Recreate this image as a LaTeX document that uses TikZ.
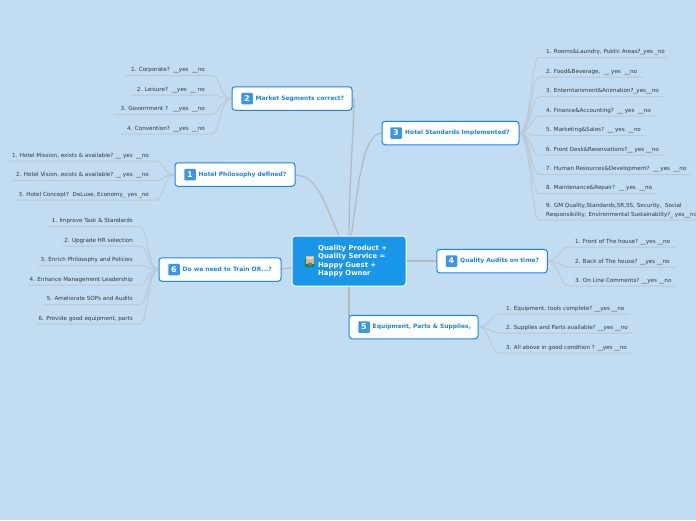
\documentclass[tikz,border=0pt]{standalone}
\usepackage{fontspec}
\setmainfont{DejaVu Sans}
\definecolor{bgc}{HTML}{C2DDF1}
\definecolor{mainb}{HTML}{1A96E8}
\definecolor{topb}{HTML}{1A84E4}
\definecolor{linec}{HTML}{BCC8D2}
\definecolor{thick}{HTML}{B4BAC0}
\definecolor{kidtxt}{HTML}{30363C}
\tikzset{
  x=1pt,y=-1pt,
  mainnode/.style={draw=white,line width=1pt,fill=mainb,rounded corners=3pt,minimum width=114pt,minimum height=50pt,inner sep=0pt},
  topic/.style={draw=topb,line width=1pt,fill=white,rounded corners=3pt,inner sep=0pt,minimum height=23.5pt},
  topictext/.style={inner sep=0pt,anchor=west,text=topb,font=\fontsize{5.95}{7}\selectfont\bfseries},
  badge/.style={fill=topb!85!white,rounded corners=1pt,minimum size=11.5pt,inner sep=0pt,text=white,font=\fontsize{8}{8}\selectfont\bfseries},
  kidtext/.style={inner sep=0pt,text=kidtxt,font=\fontsize{5.6}{6.6}\selectfont},
  branch/.style={draw=thick,line width=1.3pt},
  twig/.style={draw=linec,line width=1pt},
}
\usetikzlibrary{calc}
% \leftkid{name}{parent}{text right x}{line left x}{y of underline}{text}
\newcommand{\leftkid}[6]{%
  \node[kidtext,anchor=base east] (#1) at (#3,#5-3.6) {#6};
  \coordinate (#1L) at (#4,#5);
  \coordinate (#1R) at (#3+7,#5);
  \draw[twig] (#1L) -- (#1R) .. controls ($(#1R)+(8,0)$) and ($(#2)+(-12,0)$) .. (#2);
}
\newcommand{\rightkid}[6]{%
  \node[kidtext,anchor=base west] (#1) at (#3,#5-3.6) {#6};
  \coordinate (#1R) at (#4,#5);
  \coordinate (#1L) at (#3-7,#5);
  \draw[twig] (#1R) -- (#1L) .. controls ($(#1L)+(-8,0)$) and ($(#2)+(12,0)$) .. (#2);
}
\begin{document}
\begin{tikzpicture}
\useasboundingbox (0,0) rectangle (696,520);
\fill[bgc] (0,0) rectangle (696,520);
% connectors from the centre, drawn first
\coordinate (cm) at (349,240);
\coordinate (c1) at (340,238);
\coordinate (c3) at (351,238);
\coordinate (t2) at (354,98);
\coordinate (t1) at (295,175);
\coordinate (t3) at (382,133);
\coordinate (t4) at (437,261);
\coordinate (t5) at (349,316);
\coordinate (t6) at (281,269);
\coordinate (cc) at (349,261);
\draw[branch] (cm) .. controls (349,180) and (354,130) .. (t2);
\draw[branch] (c1) .. controls (325,205) and (318,175) .. (t1);
\draw[branch] (c3) .. controls (358,190) and (362,133) .. (t3);
\draw[branch] (cc) -- (t4);
\draw[branch] (cc) -- (t5);
\draw[branch] (cc) -- (t6);
% kids
\coordinate (p2) at (232,98.5);
\coordinate (p1) at (175,174.5);
\coordinate (p6) at (159,269.5);
\coordinate (p3) at (519,133);
\coordinate (p4) at (547,261);
\coordinate (p5) at (478,327);
\leftkid{a1}{p2}{205}{125}{75.5}{1. Corporate?\ \ \_\_yes\ \ \_\_no}
\leftkid{a2}{p2}{205}{131}{95}{2. Leisure?\ \ \_\_yes\ \ \_\_ no}
\leftkid{a3}{p2}{205}{114}{114.5}{3. Government ?\ \ \ \_\_yes\ \ \_\_no}
\leftkid{a4}{p2}{205}{121}{134}{4. Convention?\ \ \_\_yes\ \ \_\_no}
\leftkid{b1}{p1}{149}{8}{161}{1. Hotel Mission, exists \& available? \_\_ yes\ \ \_\_no}
\leftkid{b2}{p1}{149}{11}{180.5}{2. Hotel Vision, exists \& available? \_\_ yes\ \ \_\_no}
\leftkid{b3}{p1}{149}{15}{200}{3. Hotel Concept?\ \ DeLuxe, Economy\_ yes \_no}
\leftkid{f1}{p6}{133}{48}{226.5}{1. Improve Task \& Standards}
\leftkid{f2}{p6}{133}{62}{246}{2. Upgrade HR selection}
\leftkid{f3}{p6}{133}{38}{265.5}{3. Enrich Philosophy and Policies}
\leftkid{f4}{p6}{133}{28}{285}{4. Enhance Management Leadership}
\leftkid{f5}{p6}{133}{44}{304.5}{5. Ameliorate SOPs and Audits}
\leftkid{f6}{p6}{133}{36}{324}{6. Provide good equipment, parts}
\rightkid{c1k}{p3}{546}{668}{57.5}{1. Rooms\&Laundry, Public Areas?\_yes \_no}
\rightkid{c2k}{p3}{546}{643}{77}{2. Food\&Beverage,\ \ \_\_ yes\ \ \_\_no}
\rightkid{c3k}{p3}{546}{663}{96.5}{3. Enterntainment\&Animation?\_yes\_\_no}
\rightkid{c4k}{p3}{546}{656}{116}{4. Finance\&Accounting?\ \ \_\_ yes\ \ \_\_no}
\rightkid{c5k}{p3}{546}{647}{135.5}{5. Marketing\&Sales?\ \ \_\_ yes\ \ \_\_no}
\rightkid{c6k}{p3}{546}{664}{155}{6. Front Desk\&Reservations?\_\_ yes \_\_no}
\rightkid{c7k}{p3}{546}{691}{174.5}{7. Human Resources\&Development?\ \ \_\_ yes\ \ \_\_no}
\rightkid{c8k}{p3}{546}{657}{193.5}{8. Maintenance\&Repair?\ \ \_\_ yes\ \ \_\_no}
\rightkid{c9k}{p3}{546}{696}{220}{\shortstack[l]{9. GM Quality,Standards,5R,5S, Security,\ \ Social\\Responsibility, Environmental Sustainabilty?\_ yes\_\_no}}
\rightkid{d1}{p4}{575}{676}{247}{1. Front of The house? \_\_yes \_\_no}
\rightkid{d2}{p4}{575}{676}{267}{2. Back of The house? \_\_yes \_\_no}
\rightkid{d3}{p4}{575}{676}{286}{3. On Line Comments? \_\_yes \_\_no}
\rightkid{e1}{p5}{506}{629}{314}{1. Equipment, tools complete? \_\_yes \_\_no}
\rightkid{e2}{p5}{506}{632}{333}{2. Supplies and Parts available? \_\_yes \_\_no}
\rightkid{e3}{p5}{506}{632}{353}{3. All above in good condition ? \_\_yes \_\_no}
% topic boxes
\node[topic,minimum width=120pt] (n2) at (292,98.5) {};
\node[badge] (b2n) at (247,98.5) {2};
\node[topictext] (t2n) at (255.5,98.5) {Market Segments correct?};
\node[topic,minimum width=120pt] (n1) at (235,174.5) {};
\node[badge] (b1n) at (190,174.5) {1};
\node[topictext] (t1n) at (198.5,174.5) {Hotel Philosophy defined?};
\node[topic,minimum width=122pt] (n6) at (220,269.5) {};
\node[badge] (b6n) at (174,269.5) {6};
\node[topictext] (t6n) at (182.5,269.5) {Do we need to Train OR...?};
\node[topic,minimum width=137pt] (n3) at (450.5,133) {};
\node[badge] (b3n) at (396,133) {3};
\node[topictext] (t3n) at (405,133) {Hotel Standards Implemented?};
\node[topic,minimum width=110.5pt] (n4) at (492,261) {};
\node[badge] (b4n) at (451.5,261) {4};
\node[topictext] (t4n) at (460,261) {Quality Audits on time?};
\node[topic,minimum width=129pt] (n5) at (413.5,327) {};
\node[badge] (b5n) at (364,327) {5};
\node[topictext] (t5n) at (372.5,327) {Equipment, Parts \& Supplies,};
% central
\node[mainnode] (main) at (349,261) {};
\node[inner sep=0pt,anchor=west,text=white,align=left,font=\fontsize{6.9}{8.3}\selectfont\bfseries] (maintxt) at (318,261) {Quality Product +\\Quality Service =\\Happy Guest +\\Happy Owner};
% hotel icon
\fill[green!45!black!60!mainb] (304.5,259) rectangle (314,266.5);
\fill[brown!60!white] (305.5,255.5) rectangle (313.5,264);
\fill[brown!30!white] (306.5,256.5) rectangle (312.5,259);
\fill[black!55] (307.5,263) rectangle (311.5,266);
\end{tikzpicture}
\end{document}
